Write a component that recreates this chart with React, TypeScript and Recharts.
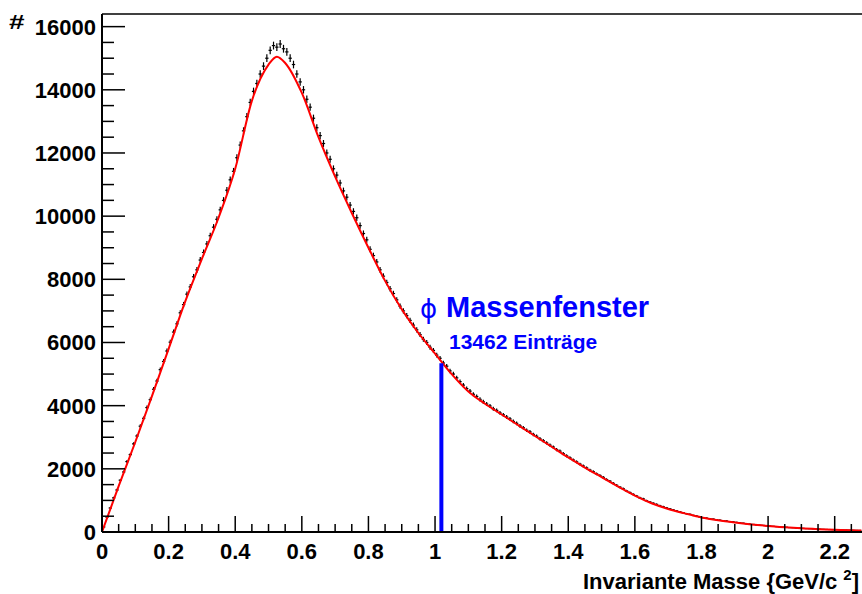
import { ComposedChart, Line, Scatter, ErrorBar, XAxis, YAxis, ReferenceLine } from "recharts"

// Histogramm: Einträge pro Bin (Binbreite 0.01 GeV/c^2, ab 0)
const BIN = 0.01
const histCounts = [
  160, 470, 760, 1080, 1330, 1640, 1900, 2230, 2450, 2790,
  3040, 3350, 3600, 3940, 4190, 4520, 4780, 5140, 5400, 5730,
  6010, 6330, 6590, 6940, 7200, 7530, 7760, 8080, 8300, 8610,
  8850, 9120, 9380, 9650, 9900, 10200, 10500, 10820, 11150, 11420,
  11850, 12250, 12700, 13150, 13600, 13950, 14200, 14500, 14750, 15000,
  15250, 15400, 15350, 15450, 15300, 15200, 15000, 14800, 14500, 14250,
  14000, 13700, 13450, 13100, 12800, 12550, 12300, 12000, 11800, 11500,
  11300, 11050, 10800, 10600, 10350, 10150, 9950, 9700, 9450, 9250,
  8950, 8750, 8550, 8300, 8100, 7900, 7700, 7550, 7350, 7150,
  7000, 6850, 6700, 6550, 6400, 6250, 6100, 6000, 5850, 5750,
  5600, 5500, 5350, 5250, 5100, 5000, 4880, 4760, 4650, 4540,
  4460, 4360, 4290, 4200, 4120, 4050, 3990, 3900, 3850, 3770,
  3710, 3640, 3580, 3500, 3440, 3360, 3300, 3220, 3170, 3090,
  3030, 2950, 2890, 2820, 2750, 2690, 2610, 2560, 2480, 2410,
  2350, 2280, 2220, 2150, 2090, 2030, 1960, 1910, 1840, 1790,
  1730, 1660, 1610, 1540, 1480, 1420, 1370, 1300, 1250, 1190,
  1140, 1080, 1050, 990, 950, 910, 875, 830, 800, 765,
  735, 700, 670, 640, 610, 580, 560, 525, 505, 475,
  455, 440, 420, 410, 390, 375, 360, 350, 330, 320,
  305, 290, 280, 260, 250, 240, 225, 215, 210, 195,
  190, 180, 170, 165, 155, 150, 140, 135, 125, 120,
  115, 108, 103, 98, 93, 90, 85, 80, 77, 72,
  70, 66, 62, 60, 57, 54, 51, 48,
]

// Fitkurve
const fitX = [
  0, 0.05, 0.1, 0.15, 0.2, 0.25, 0.3, 0.35, 0.4, 0.45, 0.5, 0.525, 0.55, 0.6, 0.65, 0.7, 0.75, 0.8,
  0.85, 0.9, 0.95, 1.0, 1.05, 1.1, 1.15, 1.2, 1.25, 1.3, 1.35, 1.4, 1.45, 1.5, 1.55, 1.6, 1.65,
  1.7, 1.75, 1.8, 1.85, 1.9, 1.95, 2.0, 2.05, 2.1, 2.15, 2.2, 2.25, 2.28,
]
const fitY = [
  0, 1450, 2850, 4300, 5800, 7300, 8650, 9950, 11500, 13650, 14800, 15050, 14850, 13900, 12500, 11250, 10100, 9000,
  7950, 7050, 6300, 5650, 5000, 4450, 4060, 3720, 3380, 3040, 2700, 2360, 2040, 1740, 1440, 1150, 910,
  730, 590, 460, 370, 300, 240, 190, 150, 115, 90, 70, 55, 45,
]

// phi-Massenfenster
const phiMass = 1.019
const phiLineTop = 5340

const xMajorTicks = [0, 0.2, 0.4, 0.6, 0.8, 1.0, 1.2, 1.4, 1.6, 1.8, 2.0, 2.2]
const yMajorTicks = [0, 2000, 4000, 6000, 8000, 10000, 12000, 14000, 16000]
const X_MAX = 2.282
const Y_MAX = 16400

const histData = histCounts.map((n, i) => ({ x: (i + 0.5) * BIN, y: n, ey: Math.sqrt(n), ex: BIN / 2 }))
const fitData = fitX.map((x, i) => ({ x, fit: fitY[i] }))

const xTicks = xMajorTicks
  .flatMap((t) => [t, t + 0.05, t + 0.1, t + 0.15])
  .filter((t) => t <= X_MAX)
const yTicks = yMajorTicks.flatMap((t) => [t, t + 500, t + 1000, t + 1500]).filter((t) => t <= 16000)

const FONT = "'Liberation Sans', Arial, Helvetica, sans-serif"
const BLUE = "#0000ff"

const isMajor = (v: number, step: number) => Math.abs(v / step - Math.round(v / step)) < 1e-6

const XTick = (props: any) => {
  const { x, y, payload } = props
  const v = payload.value
  const major = isMajor(v, 0.2)
  return (
    <g>
      <line x1={x} x2={x} y1={y} y2={y - (major ? 16 : 8)} stroke="#000" strokeWidth={1.5} />
      {major && (
        <text x={x} y={y + 27} textAnchor="middle" fontFamily={FONT} fontWeight="bold" fontSize={22} fill="#000">
          {String(Math.round(v * 10) / 10)}
        </text>
      )}
    </g>
  )
}

const YTick = (props: any) => {
  const { x, y, payload } = props
  const v = payload.value
  const major = isMajor(v, 2000)
  return (
    <g>
      <line x1={x} x2={x + (major ? 23 : 12)} y1={y} y2={y} stroke="#000" strokeWidth={1.5} />
      {major && (
        <text x={x - 6} y={y + 8} textAnchor="end" fontFamily={FONT} fontWeight="bold" fontSize={22} fill="#000">
          {v}
        </text>
      )}
    </g>
  )
}

export default function App() {
  return (
    <div style={{ position: "absolute", left: 0, top: 0, width: 862, height: 594, background: "#fff" }}>
      <ComposedChart width={862} height={594} margin={{ top: 14, right: 0, bottom: 0, left: 0 }}>
        <XAxis
          type="number"
          dataKey="x"
          domain={[0, X_MAX]}
          allowDataOverflow
          ticks={xTicks}
          interval={0}
          tick={<XTick />}
          tickSize={0}
          tickMargin={0}
          tickLine={false}
          axisLine={{ stroke: "#000", strokeWidth: 2 }}
          height={62}
        />
        <YAxis
          type="number"
          domain={[0, Y_MAX]}
          allowDataOverflow
          ticks={yTicks}
          interval={0}
          tick={<YTick />}
          tickSize={0}
          tickMargin={0}
          tickLine={false}
          axisLine={{ stroke: "#000", strokeWidth: 2 }}
          width={102}
        />
        <ReferenceLine y={Y_MAX} stroke="#000" strokeWidth={1.5} />
        <Scatter data={histData} dataKey="y" shape={() => <g />} isAnimationActive={false}>
          <ErrorBar dataKey="ey" direction="y" width={0} stroke="#000" strokeWidth={1.2} />
          <ErrorBar dataKey="ex" direction="x" width={0} stroke="#000" strokeWidth={1.2} />
        </Scatter>
        <Line
          data={fitData}
          dataKey="fit"
          type="monotone"
          stroke="#ff0000"
          strokeWidth={2}
          dot={false}
          isAnimationActive={false}
        />
        <ReferenceLine
          segment={[
            { x: phiMass, y: 0 },
            { x: phiMass, y: phiLineTop },
          ]}
          stroke={BLUE}
          strokeWidth={4}
        />
      </ComposedChart>
      <svg width={862} height={594} style={{ position: "absolute", left: 0, top: 0, pointerEvents: "none" }}>
        <g transform="translate(9,29) scale(1.4,1)">
          <text x={0} y={0} fontFamily={FONT} fontWeight="bold" fontSize={20} fill="#000">#</text>
        </g>
        <text x={859} y={589} textAnchor="end" fontFamily={FONT} fontWeight="bold" fontSize={22} fill="#000">
          Invariante Masse {"{"}GeV/c
          <tspan dx={6} dy={-9} fontSize={15}>2</tspan>
          <tspan dy={9}>]</tspan>
        </text>
        <text x={420} y={318} fontFamily="'DejaVu Sans', sans-serif" fontSize={26} fill={BLUE}>ϕ</text>
        <text x={446} y={317} fontFamily={FONT} fontWeight="bold" fontSize={29} fill={BLUE}>Massenfenster</text>
        <text x={449} y={349} fontFamily={FONT} fontWeight="bold" fontSize={21} fill={BLUE}>13462 Einträge</text>
      </svg>
    </div>
  )
}
